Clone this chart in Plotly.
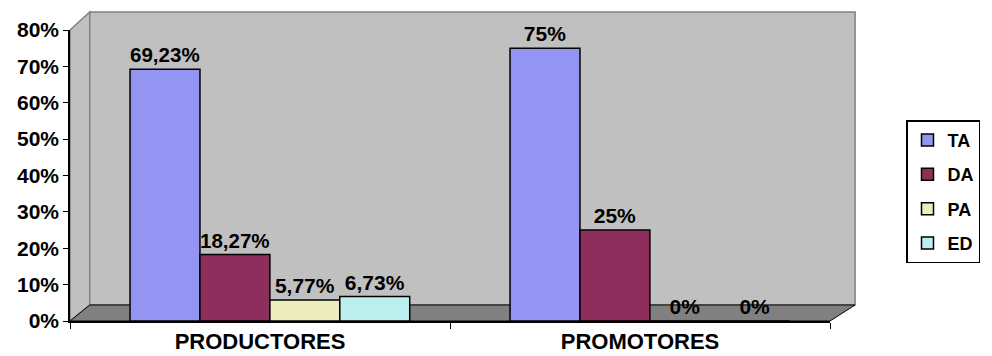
import plotly.graph_objects as go

categories = ["PRODUCTORES", "PROMOTORES"]
series_names = ["TA", "DA", "PA", "ED"]
ta = [0.6923, 0.75]
da = [0.1827, 0.25]
pa = [0.0577, 0.0]
ed = [0.0673, 0.0]
labels_ta = ["69,23%", "75%"]
labels_da = ["18,27%", "25%"]
labels_pa = ["5,77%", "0%"]
labels_ed = ["6,73%", "0%"]
y_ticks = [0, 0.1, 0.2, 0.3, 0.4, 0.5, 0.6, 0.7, 0.8]
y_tick_text = ["0%", "10%", "20%", "30%", "40%", "50%", "60%", "70%", "80%"]

colors = ["#9494F2", "#8E2E5C", "#EDEDC0", "#BDEEEE"]
values = [ta, da, pa, ed]
labels = [labels_ta, labels_da, labels_pa, labels_ed]

font_family = "Liberation Sans"
bar_w = 0.184
first_offset = -0.342

fig = go.Figure()
for i, (name, vals, txt, col) in enumerate(zip(series_names, values, labels, colors)):
    fig.add_trace(go.Bar(
        x=categories, y=vals, name=name, text=txt,
        textposition="outside", cliponaxis=False,
        legendgroup=name,
        width=bar_w, offset=first_offset + i * bar_w,
        textfont=dict(family=font_family, size=21, color="black", weight="bold"),
        marker=dict(color=col, line=dict(color="black", width=1.5)),
    ))

W, H = 992, 356
ml, mr, mt, mb = 70, 162, 30, 35

shapes = [
    dict(type="path", xref="x domain", yref="y domain",
         path="M 0 0 L 0.026 0.055 L 0.026 1.062 L 0 1 Z",
         fillcolor="#C0C0C0", line=dict(color="#808080", width=1.5), layer="below"),
    dict(type="rect", xref="x domain", yref="y domain",
         x0=0.026, x1=1.033, y0=0.055, y1=1.062,
         fillcolor="#C0C0C0", line=dict(color="#808080", width=1.5), layer="below"),
    dict(type="path", xref="x domain", yref="y domain",
         path="M 0 0 L 0.026 0.055 L 1.033 0.055 L 1.0 0 Z",
         fillcolor="#808080", line=dict(color="black", width=1), layer="below"),
]

fig.update_layout(
    width=W, height=H,
    margin=dict(l=ml, r=mr, t=mt, b=mb, autoexpand=False),
    paper_bgcolor="white", plot_bgcolor="rgba(0,0,0,0)",
    barmode="overlay",
    font=dict(family=font_family, size=18, color="black"),
    shapes=shapes,
    showlegend=True,
    legend=dict(x=1.1, y=0.69, xanchor="left", yanchor="top",
                bordercolor="black", borderwidth=1.5, bgcolor="white",
                font=dict(family=font_family, size=18, color="black", weight="bold"),
                tracegroupgap=8, itemwidth=30),
)
fig.update_xaxes(showline=True, linecolor="black", linewidth=1.5, automargin=False,
                 ticks="outside", tickson="boundaries", ticklen=6, tickcolor="black",
                 tickfont=dict(family=font_family, size=22, color="black", weight="bold"),
                 showgrid=False)
fig.update_yaxes(range=[0, 0.8], tickvals=y_ticks, ticktext=y_tick_text, automargin=False,
                 showline=True, linecolor="black", linewidth=1.5,
                 ticks="outside", ticklen=5, tickcolor="black",
                 tickfont=dict(family=font_family, size=21, color="black", weight="bold"),
                 showgrid=False, zeroline=False)

fig.write_html("out.html")
